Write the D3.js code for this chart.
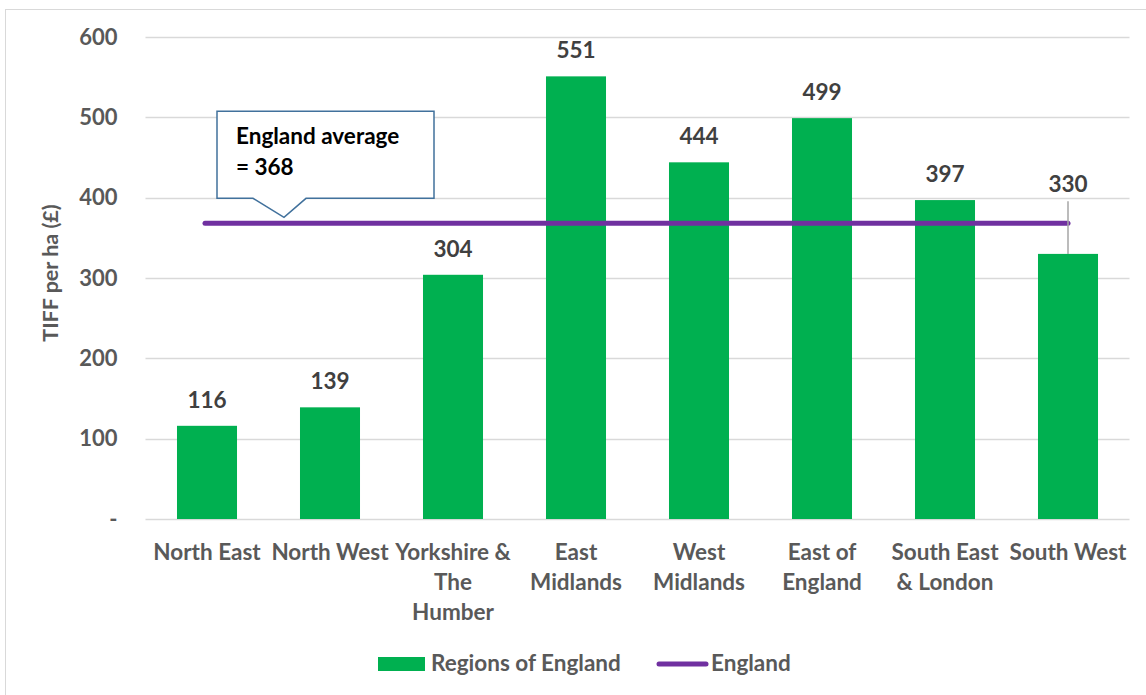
<!DOCTYPE html>
<html>
<head>
<meta charset="utf-8">
<script src="https://cdn.jsdelivr.net/npm/d3@7"></script>
<style>
  body { margin: 0; background: #fff; }
  text { font-family: Lato, "Open Sans", sans-serif; font-weight: bold; }
</style>
</head>
<body>
<div id="chart"></div>
<script>
// data
var regions = ["North East", "North West", "Yorkshire & The Humber", "East Midlands",
               "West Midlands", "East of England", "South East & London", "South West"];
var regionLines = [["North East"], ["North West"], ["Yorkshire &", "The", "Humber"], ["East", "Midlands"],
                   ["West", "Midlands"], ["East of", "England"], ["South East", "& London"], ["South West"]];
var tiffPerHa = [116, 139, 304, 551, 444, 499, 397, 330];
var englandAvg = 368;
var yTicks = [0, 100, 200, 300, 400, 500, 600];

var W = 1146, H = 695;
var margin = { left: 145.5, right: 16.5, top: 37, bottom: 176 };
var width = W - margin.left - margin.right;
var height = H - margin.top - margin.bottom;

var svg = d3.select("#chart").append("svg")
    .attr("width", W)
    .attr("height", H);

// chart frame
svg.append("rect")
    .attr("x", 5.5).attr("y", 9.5)
    .attr("width", W + 10).attr("height", H + 10)
    .attr("fill", "none")
    .attr("stroke", "#d9d9d9");

var g = svg.append("g")
    .attr("transform", "translate(" + margin.left + "," + margin.top + ")");

var x = d3.scaleBand()
    .domain(regions)
    .range([0, width])
    .paddingInner(0.512)
    .paddingOuter(0.256);

var y = d3.scaleLinear()
    .domain([0, 600])
    .range([height, 0]);

// gridlines
g.append("g")
    .selectAll("line")
    .data(yTicks)
    .enter().append("line")
    .attr("x1", 0).attr("x2", width)
    .attr("y1", function (d) { return Math.round(y(d)) + 0.5; })
    .attr("y2", function (d) { return Math.round(y(d)) + 0.5; })
    .attr("stroke", "#d9d9d9")
    .attr("stroke-width", 1.5);

// y axis labels
var yAxis = d3.axisLeft(y)
    .tickValues(yTicks)
    .tickSize(0)
    .tickPadding(28)
    .tickFormat(function (d) { return d === 0 ? "-" : d; });

var yAxisGroup = g.append("g").call(yAxis);
yAxisGroup.select(".domain").remove();
yAxisGroup.selectAll("text")
    .attr("font-family", "Lato, sans-serif")
    .attr("font-size", "22px")
    .attr("font-weight", "bold")
    .attr("fill", "#595959");

// y label
g.append("text")
    .attr("transform", "rotate(-90)")
    .attr("x", -(height / 2) + 5)
    .attr("y", -88)
    .attr("text-anchor", "middle")
    .attr("font-size", "21.5px")
    .attr("fill", "#595959")
    .text("TIFF per ha (£)");

// x labels
var xl = g.append("g").selectAll("text")
    .data(regions)
    .enter().append("text")
    .attr("text-anchor", "middle")
    .attr("font-size", "22.5px")
    .attr("fill", "#595959")
    .attr("transform", function (d) { return "translate(" + (x(d) + x.bandwidth() / 2) + "," + (height + 41) + ")"; });

xl.each(function (d, i) {
    var t = d3.select(this);
    regionLines[i].forEach(function (line, j) {
        t.append("tspan").attr("x", 0).attr("y", j * 30).text(line);
    });
});

// bars
g.selectAll("rect.bar")
    .data(tiffPerHa)
    .enter().append("rect")
    .attr("class", "bar")
    .attr("x", function (d, i) { return x(regions[i]); })
    .attr("y", function (d) { return y(d); })
    .attr("width", x.bandwidth())
    .attr("height", function (d) { return height - y(d); })
    .attr("fill", "#00b050");

// England average line
g.append("line")
    .attr("x1", x(regions[0]) + x.bandwidth() / 2 - 2)
    .attr("x2", x(regions[regions.length - 1]) + x.bandwidth() / 2)
    .attr("y1", y(englandAvg))
    .attr("y2", y(englandAvg))
    .attr("stroke", "#7030a0")
    .attr("stroke-width", 5)
    .attr("stroke-linecap", "round");

// value labels; last one moved above the average line with a leader
var lastIdx = tiffPerHa.length - 1;
g.selectAll("text.val")
    .data(tiffPerHa)
    .enter().append("text")
    .attr("class", "val")
    .attr("text-anchor", "middle")
    .attr("font-size", "22.5px")
    .attr("fill", "#404040")
    .attr("x", function (d, i) { return x(regions[i]) + x.bandwidth() / 2; })
    .attr("y", function (d, i) { return i === lastIdx ? y(englandAvg) - 31 : y(d) - 18; })
    .text(function (d) { return d; });

var swX = x(regions[lastIdx]) + x.bandwidth() / 2;
g.append("line")
    .attr("x1", swX).attr("x2", swX)
    .attr("y1", y(englandAvg) - 22)
    .attr("y2", y(tiffPerHa[lastIdx]))
    .attr("stroke", "#a6a6a6")
    .attr("stroke-width", 1.5);

// callout
var tipX = x(regions[0]) + x.bandwidth() / 2 + 77;
var tipY = y(englandAvg) - 6;
var bx0 = tipX - 67, bx1 = tipX + 150, by0 = tipY - 106, by1 = tipY - 19;
var callout = g.append("g");
callout.append("path")
    .attr("d", "M" + bx0 + "," + by0 + "H" + bx1 + "V" + by1 + "H" + (tipX + 22) +
               "L" + tipX + "," + tipY + "L" + (tipX - 31) + "," + by1 + "H" + bx0 + "Z")
    .attr("fill", "#fff")
    .attr("stroke", "#41719c")
    .attr("stroke-width", 1.5);
callout.append("text")
    .attr("x", bx0 + 19).attr("y", by0 + 33)
    .attr("font-size", "22.5px")
    .attr("fill", "#000")
    .text("England average");
callout.append("text")
    .attr("x", bx0 + 19).attr("y", by0 + 64)
    .attr("font-size", "22.5px")
    .attr("fill", "#000")
    .text("= 368");

// legend
var legend = svg.append("g");
legend.append("rect")
    .attr("x", 378).attr("y", 657)
    .attr("width", 47).attr("height", 14)
    .attr("fill", "#00b050");
legend.append("text")
    .attr("x", 431).attr("y", 671)
    .attr("font-size", "22.5px")
    .attr("fill", "#595959")
    .text("Regions of England");
legend.append("line")
    .attr("x1", 659).attr("x2", 706)
    .attr("y1", 664).attr("y2", 664)
    .attr("stroke", "#7030a0")
    .attr("stroke-width", 5)
    .attr("stroke-linecap", "round");
legend.append("text")
    .attr("x", 711).attr("y", 671)
    .attr("font-size", "22.5px")
    .attr("fill", "#595959")
    .text("England");
</script>
</body>
</html>
